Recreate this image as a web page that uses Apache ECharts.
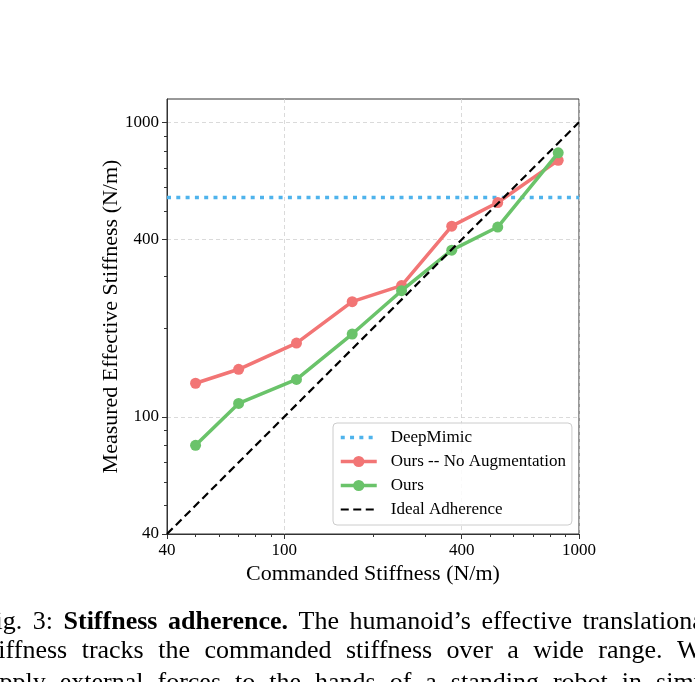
<!DOCTYPE html>
<html>
<head>
<meta charset="utf-8">
<script src="https://cdn.jsdelivr.net/npm/echarts@6/dist/echarts.min.js"></script>
<style>
  html, body { margin: 0; padding: 0; background: #fff; }
  #chart { width: 695px; height: 682px; }
</style>
</head>
<body>
<div id="chart"></div>
<script>
// data (log-log axes)
const commanded = [50, 70, 110, 170, 250, 370, 530, 850];
const noAugMeasured = [130, 145, 178, 246, 279, 444, 534, 743];
const oursMeasured = [80, 111, 134, 191, 268, 368, 441, 788];
const deepMimicLevel = 555;
const idealRange = [40, 1000];
const majorTicks = [40, 100, 400, 1000];
const minorTicks = [50, 60, 70, 80, 90, 200, 300, 500, 600, 700, 800, 900];

const serif = "'Liberation Serif', 'Times New Roman', serif";

// caption, cropped by the page edges like in the source image
const captionLine1 = [['Fig.'], ['3:'], ['Stiffness', 1], ['adherence.', 1], ['The'], ['humanoid\u2019s'],
  ['effective'], ['translational']];
const captionLine2 = [['stiffness'], ['tracks'], ['the'], ['commanded'], ['stiffness'], ['over'], ['a'],
  ['wide'], ['range.'], ['We']];
const captionLine3 = [['apply'], ['external'], ['forces'], ['to'], ['the'], ['hands'], ['of'], ['a'],
  ['standing'], ['robot'], ['in'], ['simulation']];

const chart = echarts.init(document.getElementById('chart'));

const pair = (xs, ys) => xs.map((x, i) => [x, ys[i]]);

// justified text layout for the caption column
const ctx = document.createElement('canvas').getContext('2d');
const captionFont = bold => (bold ? 'bold ' : '') + '26px ' + serif;
const measure = w => { ctx.font = captionFont(w[1]); return ctx.measureText(w[0]).width; };

const colLeft = -19, colRight = 711;
const captionGraphics = [];
function layLine(words, y, justify, fixedGap) {
  const widths = words.map(measure);
  const total = widths.reduce((a, b) => a + b, 0);
  const gap = justify ? (colRight - colLeft - total) / (words.length - 1) : fixedGap;
  let x = justify ? colLeft : -12;
  words.forEach((w, i) => {
    captionGraphics.push({
      type: 'text', x: x, y: y, silent: true,
      style: { text: w[0], font: captionFont(w[1]), fill: '#000', verticalAlign: 'middle' }
    });
    x += widths[i] + gap;
  });
}
layLine(captionLine1, 622, true);
layLine(captionLine2, 651, true);
layLine(captionLine3, 683, false, 14);

const fmt = v => String(Math.round(v));

const option = {
  animation: false,
  backgroundColor: '#fff',
  textStyle: { fontFamily: serif },
  grid: {
    left: 167, right: 116, top: 99, bottom: 148,
    show: true, borderColor: '#333', borderWidth: 1, backgroundColor: 'transparent'
  },
  legend: {
    orient: 'vertical',
    left: 333,
    top: 423,
    padding: [6, 6, 7, 6],
    itemWidth: 36,
    itemHeight: 14,
    itemGap: 7,
    backgroundColor: 'rgba(255,255,255,0.85)',
    borderColor: '#cccccc',
    borderWidth: 1,
    borderRadius: 4,
    textStyle: { fontFamily: serif, fontSize: 17, color: '#000', padding: [0, 0, 0, 9] },
    data: [
      { name: 'DeepMimic', itemStyle: { opacity: 0 }, lineStyle: { width: 3.5 } },
      { name: 'Ours -- No Augmentation', lineStyle: { width: 3.5 } },
      { name: 'Ours', lineStyle: { width: 3.5 } },
      { name: 'Ideal Adherence', itemStyle: { opacity: 0 }, lineStyle: { width: 2.2 } }
    ]
  },
  xAxis: [
    {
      type: 'log', logBase: 10, min: 40, max: 1000,
      name: 'Commanded Stiffness (N/m)',
      nameLocation: 'middle', nameGap: 29, nameMoveOverlap: false,
      nameTextStyle: { fontFamily: serif, fontSize: 22, color: '#000' },
      axisLine: { show: true, lineStyle: { color: '#333', width: 1 } },
      axisTick: { show: true, inside: false, length: 5, customValues: majorTicks, lineStyle: { color: '#333' } },
      axisLabel: { customValues: majorTicks, formatter: fmt, fontFamily: serif, fontSize: 17, color: '#000', margin: 8 },
      splitLine: { show: true, lineStyle: { color: '#d0d0d0', type: [4, 3], width: 0.8 } },
      minorTick: { show: false }
    },
    {
      type: 'log', logBase: 10, min: 40, max: 1000, position: 'bottom',
      axisLine: { show: false },
      axisTick: { show: true, length: 3, customValues: minorTicks, lineStyle: { color: '#333' } },
      axisLabel: { show: false },
      splitLine: { show: false }
    }
  ],
  yAxis: [
    {
      type: 'log', logBase: 10, min: 40, max: 1200,
      name: 'Measured Effective Stiffness (N/m)',
      nameLocation: 'middle', nameGap: 45, nameMoveOverlap: false,
      nameTextStyle: { fontFamily: serif, fontSize: 22, color: '#000' },
      axisLine: { show: true, lineStyle: { color: '#333', width: 1 } },
      axisTick: { show: true, inside: false, length: 5, customValues: majorTicks, lineStyle: { color: '#333' } },
      axisLabel: { customValues: majorTicks, formatter: fmt, fontFamily: serif, fontSize: 17, color: '#000', margin: 8 },
      splitLine: { show: true, lineStyle: { color: '#d0d0d0', type: [4, 3], width: 0.8 } }
    },
    {
      type: 'log', logBase: 10, min: 40, max: 1200, position: 'left',
      axisLine: { show: false },
      axisTick: { show: true, length: 3, customValues: minorTicks, lineStyle: { color: '#333' } },
      axisLabel: { show: false },
      splitLine: { show: false }
    }
  ],
  series: [
    {
      name: 'DeepMimic',
      type: 'line',
      data: [[idealRange[0], deepMimicLevel], [idealRange[1], deepMimicLevel]],
      symbol: 'none',
      itemStyle: { color: '#4EB3EC' },
      lineStyle: { color: '#4EB3EC', width: 3.5, type: [4, 5.3] },
      z: 2
    },
    {
      name: 'Ours -- No Augmentation',
      type: 'line',
      data: pair(commanded, noAugMeasured),
      symbol: 'circle',
      symbolSize: 11,
      itemStyle: { color: '#F27575' },
      lineStyle: { color: '#F27575', width: 3.5 },
      z: 3
    },
    {
      name: 'Ours',
      type: 'line',
      data: pair(commanded, oursMeasured),
      symbol: 'circle',
      symbolSize: 11,
      itemStyle: { color: '#6AC36A' },
      lineStyle: { color: '#6AC36A', width: 3.5 },
      z: 4
    },
    {
      name: 'Ideal Adherence',
      type: 'line',
      data: pair(idealRange, idealRange),
      symbol: 'none',
      itemStyle: { color: '#000' },
      lineStyle: { color: '#000', width: 2.2, type: [8, 4.5] },
      z: 5
    }
  ],
  graphic: captionGraphics
};

chart.setOption(option);
</script>
</body>
</html>
